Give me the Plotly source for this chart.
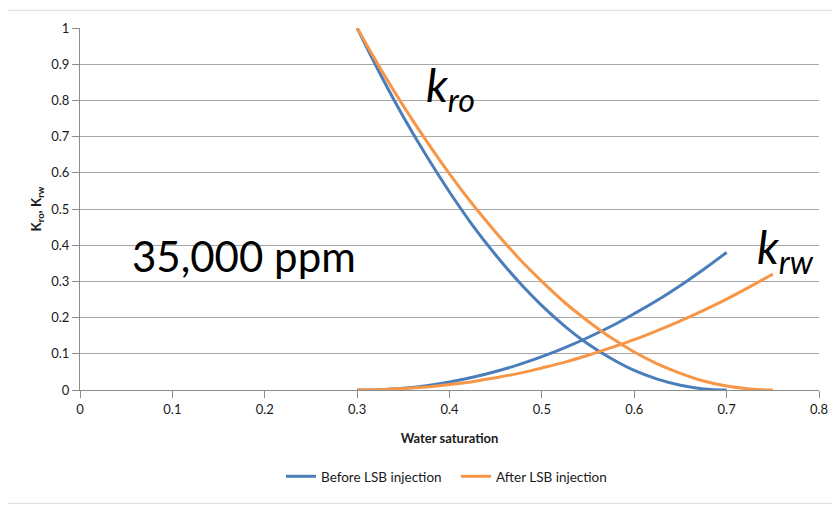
import plotly.graph_objects as go

# Water saturation grids
sw_before = [0.300, 0.325, 0.350, 0.375, 0.400, 0.425, 0.450, 0.475, 0.500,
             0.525, 0.550, 0.575, 0.600, 0.625, 0.650, 0.675, 0.700]
kro_before = [1.000, 0.873, 0.755, 0.647, 0.547, 0.455, 0.373, 0.299, 0.233,
              0.176, 0.127, 0.087, 0.054, 0.030, 0.013, 0.003, 0.000]
krw_before = [0.000, 0.001, 0.005, 0.012, 0.022, 0.035, 0.051, 0.070, 0.092,
              0.117, 0.145, 0.176, 0.211, 0.248, 0.289, 0.333, 0.380]

sw_after = [0.300, 0.325, 0.350, 0.375, 0.400, 0.425, 0.450, 0.475, 0.500,
            0.525, 0.550, 0.575, 0.600, 0.625, 0.650, 0.675, 0.700, 0.725, 0.750]
kro_after = [1.000, 0.889, 0.785, 0.688, 0.597, 0.513, 0.436, 0.364, 0.300,
             0.241, 0.190, 0.144, 0.105, 0.072, 0.046, 0.025, 0.011, 0.003, 0.000]
krw_after = [0.000, 0.001, 0.004, 0.008, 0.015, 0.023, 0.034, 0.046, 0.061,
             0.077, 0.096, 0.117, 0.139, 0.164, 0.191, 0.220, 0.251, 0.285, 0.320]

x_ticks = [0, 0.1, 0.2, 0.3, 0.4, 0.5, 0.6, 0.7, 0.8]
y_ticks = [0, 0.1, 0.2, 0.3, 0.4, 0.5, 0.6, 0.7, 0.8, 0.9, 1]

BLUE = "#4a7ebb"
ORANGE = "#f79646"
FONT = "Lato, Carlito, Calibri, sans-serif"

fig = go.Figure()
fig.add_trace(go.Scatter(x=sw_before, y=kro_before, mode="lines", name="Before LSB injection",
                         line=dict(color=BLUE, width=3, shape="spline"), legendgroup="b"))
fig.add_trace(go.Scatter(x=sw_before, y=krw_before, mode="lines", name="Before LSB injection",
                         line=dict(color=BLUE, width=3, shape="spline"), legendgroup="b", showlegend=False))
fig.add_trace(go.Scatter(x=sw_after, y=kro_after, mode="lines", name="After LSB injection",
                         line=dict(color=ORANGE, width=3, shape="spline"), legendgroup="a"))
fig.add_trace(go.Scatter(x=sw_after, y=krw_after, mode="lines", name="After LSB injection",
                         line=dict(color=ORANGE, width=3, shape="spline"), legendgroup="a", showlegend=False))

fig.update_layout(
    width=832, height=499,
    margin=dict(l=72, r=18, t=14, b=117),
    paper_bgcolor="white", plot_bgcolor="white",
    font=dict(family=FONT, size=13, color="#1a1a1a"),
    showlegend=True,
    legend=dict(orientation="h", x=0.272, xanchor="left", y=-0.239, yanchor="middle",
                font=dict(size=13.5, family=FONT), itemwidth=30, entrywidth=130,
                entrywidthmode="pixels", bgcolor="rgba(0,0,0,0)"),
    xaxis=dict(range=[0, 0.8], tickvals=x_ticks, ticktext=[f"{v:g}" for v in x_ticks],
               showgrid=False, zeroline=False, showline=True, linecolor="#8c8c8c", linewidth=1,
               ticks="outside", ticklen=7, tickcolor="#8c8c8c", tickfont=dict(size=13),
               title=dict(text="<b>Water saturation</b>", font=dict(size=13, family=FONT), standoff=18)),
    yaxis=dict(range=[0, 1], tickvals=y_ticks, ticktext=[f"{v:g}" for v in y_ticks],
               showgrid=True, gridcolor="#a6a6a6", gridwidth=1, zeroline=False,
               showline=True, linecolor="#8c8c8c", linewidth=1,
               ticks="outside", ticklen=7, tickcolor="#8c8c8c", tickfont=dict(size=13),
               title=dict(text="<b>K<sub>ro</sub>, K<sub>rw</sub></b>", font=dict(size=13.5, family=FONT), standoff=6)),
    shapes=[dict(type="rect", xref="paper", yref="paper",
                 x0=-0.100, x1=1.03, y0=-0.313, y1=1.049,
                 line=dict(color="#d9d9d9", width=1), layer="below")],
    annotations=[
        dict(text="<i>k<sub>ro</sub></i>", x=0.372, y=0.925, xref="x", yref="y",
             xanchor="left", yanchor="top", showarrow=False,
             font=dict(size=46, family=FONT, color="black")),
        dict(text="35,000 ppm", x=0.177, y=0.37, xref="x", yref="y",
             xanchor="center", yanchor="middle", showarrow=False,
             font=dict(size=42, family=FONT, color="black")),
        dict(text="<i>k<sub>rw</sub></i>", x=0.731, y=0.478, xref="x", yref="y",
             xanchor="left", yanchor="top", showarrow=False,
             font=dict(size=46, family=FONT, color="black")),
    ],
)

fig.write_html("out.html")
